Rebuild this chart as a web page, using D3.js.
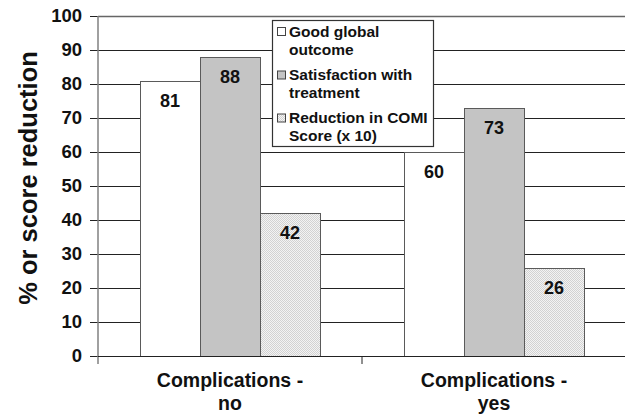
<!DOCTYPE html>
<html>
<head>
<meta charset="utf-8">
<script src="https://cdn.jsdelivr.net/npm/d3@7/dist/d3.min.js"></script>
<style>
  html, body { margin: 0; padding: 0; background: #fff; }
  svg { display: block; font-family: "Liberation Sans", Arial, sans-serif; font-weight: bold; }
</style>
</head>
<body>
<svg id="chart" width="625" height="416"></svg>
<script>
// Groups along the x axis (each label split over two lines)
const categories = ["no", "yes"];
const categoryLabels = [["Complications -", "no"], ["Complications -", "yes"]];

// Series and their values per group
const seriesNames = ["good", "satisfaction", "comi"];
const legendLabels = [
  ["Good global", "outcome"],
  ["Satisfaction with", "treatment"],
  ["Reduction in COMI", "Score (x 10)"]
];
const goodOutcome = [81, 60];
const satisfaction = [88, 73];
const comiReduction = [42, 26];

const yTicks = [0, 10, 20, 30, 40, 50, 60, 70, 80, 90, 100];
const yTitle = "% or score reduction";

const svg = d3.select("#chart");

// fine dotted fill for the COMI series
const defs = svg.append("defs");
const pat = defs.append("pattern")
  .attr("id", "dots").attr("patternUnits", "userSpaceOnUse")
  .attr("width", 2).attr("height", 2);
pat.append("rect").attr("width", 2).attr("height", 2).attr("fill", "#f3f3f3");
pat.append("rect").attr("width", 1).attr("height", 1).attr("fill", "#d2d2d2");
pat.append("rect").attr("x", 1).attr("y", 1).attr("width", 1).attr("height", 1).attr("fill", "#d2d2d2");

const fills = { good: "#ffffff", satisfaction: "#c4c4c4", comi: "url(#dots)" };

const plotLeft = 98, plotRight = 626, plotTop = 16, plotBottom = 356;

const x0 = d3.scaleBand().domain(categories).range([plotLeft, plotRight]).padding(0);
const x1 = d3.scaleBand().domain(seriesNames).range([42, 222]).padding(0);
const y = d3.scaleLinear().domain([0, 100]).range([plotBottom, plotTop]);

const valuesBySeries = { good: goodOutcome, satisfaction: satisfaction, comi: comiReduction };

// horizontal gridlines
svg.append("g").selectAll("line").data(yTicks.filter(d => d > 0)).join("line")
  .attr("x1", plotLeft).attr("x2", plotRight)
  .attr("y1", d => Math.round(y(d)) + 0.5).attr("y2", d => Math.round(y(d)) + 0.5)
  .attr("stroke", d => d === 100 ? "#666" : "#222").attr("stroke-width", d => d === 100 ? 1.5 : 1);

// bars
const groups = svg.append("g").selectAll("g").data(categories).join("g")
  .attr("transform", d => `translate(${x0(d)},0)`);

groups.each(function(cat, ci) {
  const g = d3.select(this);
  seriesNames.forEach(s => {
    const v = valuesBySeries[s][ci];
    g.append("rect")
      .attr("x", x1(s) + 0.5).attr("y", Math.round(y(v)) + 0.5)
      .attr("width", x1.bandwidth()).attr("height", y(0) - Math.round(y(v)))
      .attr("fill", fills[s]).attr("stroke", "#5a5a5a").attr("stroke-width", 1);
    g.append("text")
      .attr("x", x1(s) + x1.bandwidth() / 2).attr("y", y(v) + 26)
      .attr("text-anchor", "middle").attr("font-size", 18).attr("fill", "#111")
      .text(v);
  });
});

// y axis
const yAxis = d3.axisLeft(y).tickValues(yTicks).tickSize(8).tickPadding(8);
const ya = svg.append("g").attr("transform", `translate(${plotLeft},0)`).call(yAxis);
ya.select(".domain").remove();
ya.selectAll(".tick line").attr("stroke", "#222");
ya.selectAll(".tick text").attr("font-size", 18.5).attr("font-family", "Liberation Sans, Arial, sans-serif")
  .attr("font-weight", "bold").attr("fill", "#111");
svg.append("line").attr("x1", plotLeft).attr("x2", plotLeft).attr("y1", plotTop).attr("y2", plotBottom + 8)
  .attr("stroke", "#808080").attr("stroke-width", 1.5);

// x axis baseline and group separators
svg.append("line").attr("x1", plotLeft).attr("x2", plotRight).attr("y1", plotBottom + 0.5).attr("y2", plotBottom + 0.5)
  .attr("stroke", "#222").attr("stroke-width", 1.2);
svg.append("g").selectAll("line").data(categories.slice(1)).join("line")
  .attr("x1", d => x0(d)).attr("x2", d => x0(d)).attr("y1", plotBottom).attr("y2", plotBottom + 8)
  .attr("stroke", "#222");

// x labels
svg.append("g").selectAll("text").data(categories).join("text")
  .attr("text-anchor", "middle").attr("font-size", 19.5).attr("fill", "#111")
  .each(function(d, i) {
    const t = d3.select(this);
    const cx = x0(d) + x0.bandwidth() / 2;
    categoryLabels[i].forEach((line, j) => {
      t.append("tspan").attr("x", cx).attr("y", 387 + j * 23).text(line);
    });
  });

// y title
svg.append("text")
  .attr("transform", "translate(37,178) rotate(-90)")
  .attr("text-anchor", "middle").attr("font-size", 25.5).attr("fill", "#111")
  .text(yTitle);

// legend
const lg = svg.append("g");
lg.append("rect").attr("x", 272.5).attr("y", 20.5).attr("width", 161).attr("height", 126)
  .attr("fill", "#fff").attr("stroke", "#333").attr("stroke-width", 1.2);
const baselines = [36.5, 80, 123];
seriesNames.forEach((s, i) => {
  lg.append("rect").attr("x", 277.5).attr("y", baselines[i] - 9).attr("width", 8).attr("height", 8)
    .attr("fill", fills[s]).attr("stroke", "#444").attr("stroke-width", 1);
  legendLabels[i].forEach((line, j) => {
    lg.append("text").attr("x", 289).attr("y", baselines[i] + j * 18)
      .attr("font-size", 15.5).attr("fill", "#111").text(line);
  });
});
</script>
</body>
</html>
